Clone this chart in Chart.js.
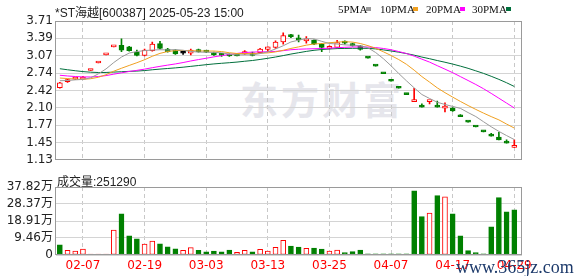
<!DOCTYPE html>
<html><head><meta charset="utf-8">
<script src="https://cdn.jsdelivr.net/npm/chart.js@4.4.0/dist/chart.umd.min.js"></script>
<style>
html,body{margin:0;padding:0;background:#fff;width:578px;height:276px;overflow:hidden;}
#wrap{position:relative;width:578px;height:276px;}
canvas{position:absolute;left:0;}
.t{position:absolute;white-space:nowrap;line-height:1;}
.sq{position:absolute;width:5px;height:4px;}
</style></head><body>
<div id="wrap">
 <div class="t" id="wm" style="left:240px;top:70px;font:bold 38px 'Noto Sans CJK SC';color:#e6e6ec;letter-spacing:3px;">东方财富</div>
 <canvas id="pc" width="578" height="170" style="top:0"></canvas>
 <canvas id="vc" width="578" height="106" style="top:170px"></canvas>
 <div class="t" id="title" style="left:55px;top:3px;font:12px 'Liberation Sans','Noto Sans CJK SC';color:#222;"></div>
 <div id="legend"></div>
 <div class="t" id="volLbl" style="left:57px;top:172px;font:12px 'Liberation Sans','Noto Sans CJK SC';color:#222;"></div>
 <div class="t" style="left:456px;top:257px;font:18px 'Liberation Serif';color:#1d3a6b;">www.365jz.com</div>
</div>
<script>
// ---------- data ----------
const stockTitle = '*ST海越[600387] 2025-05-23 15:00';
const dates = ['02-04','02-05','02-06','02-07','02-10','02-11','02-12','02-13','02-14','02-17',
 '02-18','02-19','02-20','02-21','02-24','02-25','02-26','02-27','02-28','03-03',
 '03-04','03-05','03-06','03-07','03-10','03-11','03-12','03-13','03-14','03-17',
 '03-18','03-19','03-20','03-21','03-24','03-25','03-26','03-27','03-28','03-31',
 '04-01','04-02','04-03','04-07','04-08','04-09','04-10','04-11','04-14','04-15',
 '04-16','04-17','04-18','04-21','04-22','04-23','04-24','04-25','04-28','04-29'];
const open = [2.47,2.58,2.63,2.63,2.79,2.93,3.08,3.23,3.26,3.23,
 3.13,3.07,3.16,3.29,3.19,3.17,3.11,3.11,3.18,3.15,
 3.12,3.08,3.09,3.07,3.10,3.12,3.12,3.18,3.22,3.32,
 3.44,3.39,3.34,3.35,3.28,3.20,3.22,3.32,3.29,3.25,
 3.02,2.87,2.73,2.59,2.46,2.34,2.21,2.12,2.21,2.12,
 2.09,2.09,1.94,1.83,1.74,1.65,1.58,1.55,1.45,1.36];
const high = [2.57,2.63,2.65,2.68,2.79,2.93,3.08,3.23,3.38,3.24,
 3.17,3.19,3.32,3.33,3.20,3.18,3.13,3.19,3.19,3.16,
 3.13,3.09,3.10,3.07,3.16,3.13,3.20,3.23,3.34,3.49,
 3.46,3.45,3.42,3.36,3.29,3.25,3.35,3.34,3.30,3.26,
 3.02,2.87,2.73,2.59,2.46,2.34,2.46,2.17,2.22,2.22,
 2.19,2.10,1.97,1.83,1.74,1.65,1.62,1.64,1.50,1.50];
const low = [2.46,2.57,2.62,2.62,2.79,2.93,3.08,3.23,3.14,3.15,
 3.06,3.06,3.15,3.19,3.13,3.09,3.09,3.08,3.13,3.12,
 3.07,3.05,3.05,3.06,3.09,3.06,3.11,3.14,3.20,3.28,
 3.40,3.32,3.30,3.27,3.14,3.19,3.21,3.28,3.24,3.17,
 3.02,2.87,2.73,2.59,2.46,2.34,2.21,2.11,2.17,2.11,
 2.02,2.03,1.93,1.83,1.74,1.65,1.57,1.50,1.44,1.36];
const close = [2.56,2.62,2.64,2.66,2.79,2.93,3.08,3.23,3.17,3.16,
 3.07,3.17,3.28,3.20,3.14,3.10,3.11,3.17,3.14,3.13,
 3.08,3.07,3.06,3.06,3.14,3.07,3.19,3.23,3.32,3.44,
 3.42,3.36,3.38,3.28,3.22,3.22,3.31,3.30,3.25,3.18,
 3.02,2.87,2.73,2.59,2.46,2.34,2.22,2.11,2.22,2.11,
 2.13,2.04,1.93,1.83,1.74,1.65,1.57,1.50,1.44,1.37];
// closes of the 29 sessions before the window (estimated, used for the moving averages)
const priorCloses = [3.20,3.18,3.15,3.12,3.10,3.06,3.02,2.98,2.95,2.90,
 2.88,2.85,2.82,2.80,2.76,2.73,2.70,2.68,2.66,2.65,
 2.72,2.74,2.70,2.68,2.66,
 2.60,2.58,2.62,2.64];
// volume in 万
const volume = [5.6,2.6,2.2,3.3,0.5,0.5,0.5,13.9,22.9,10.7,
 9.0,6.1,7.7,6.2,4.6,3.4,2.6,4.1,2.6,1.7,
 2.2,1.7,2.8,1.5,2.6,1.7,3.1,2.2,4.3,8.2,
 5.0,4.4,3.7,3.9,3.3,2.2,2.8,1.3,1.9,2.8,
 0.6,0.6,0.6,0.6,0.6,0.6,35.7,21.3,23.3,33.0,
 32.3,22.9,10.7,2.4,1.3,0.7,15.6,31.9,24.0,25.129];
const volUp = [0,1,1,1,1,1,1,1,0,0,
 0,1,1,0,0,0,1,1,0,0,
 0,0,0,1,1,0,1,1,1,1,
 0,0,1,0,0,1,1,0,0,0,
 0,0,0,0,0,0,0,0,1,0,
 1,0,0,0,0,0,0,0,0,0];
const priceTicks = [3.71,3.39,3.07,2.74,2.42,2.10,1.77,1.45,1.13];
const volTicks = [0,9.46,18.91,28.37,37.82];
const dateTickIdx = [3,11,19,27,35,43,51,59];
const maPeriods = [5,10,20,30];
const maNames = ['5PMA','10PMA','20PMA','30PMA'];
const maColors = ['#9a9a9a','#f0a020','#ff00ff','#006f3c'];

// ---------- derived ----------
const RED = '#ff0000', GREEN = '#008000';
const allCloses = priorCloses.concat(close);
function movingAvg(n){
  return close.map((_, i) => {
    const end = priorCloses.length + i; let s = 0;
    for (let k = end - n + 1; k <= end; k++) s += allCloses[k];
    return s / n;
  });
}
function candleColor(i){
  if (close[i] > open[i]) return RED;
  if (close[i] < open[i]) return GREEN;
  if (high[i] === low[i]) { const prev = i ? close[i-1] : priorCloses[priorCloses.length-1]; return close[i] >= prev ? RED : GREEN; }
  return '#000';
}
const cColors = close.map((_, i) => candleColor(i));
const cFill = cColors.map(c => c === RED ? '#ffffff' : c);

document.getElementById('title').textContent = stockTitle;
document.getElementById('volLbl').textContent = '成交量:' + Math.round(volume[volume.length-1]*10000);
const legendPos = [[338,366],[380,413],[426,460],[472,506]];
const lg = document.getElementById('legend');
maNames.forEach((n, k) => {
  const t = document.createElement('div'); t.className = 't'; t.textContent = n;
  t.style.cssText = `left:${legendPos[k][0]}px;top:3px;font:11px 'Liberation Serif';color:#111;`;
  lg.appendChild(t);
  const s = document.createElement('div'); s.className = 'sq';
  s.style.cssText = `left:${legendPos[k][1]}px;top:7px;background:${maColors[k]};`;
  lg.appendChild(s);
});

const framePlugin = { id: 'frame', afterDraw(chart){
  const {ctx, chartArea: a} = chart; ctx.save(); ctx.strokeStyle = '#9a9a9a'; ctx.lineWidth = 1;
  ctx.strokeRect(Math.round(a.left) - 0.5, Math.round(a.top) + 0.5, Math.round(a.right - a.left), Math.round(a.bottom - a.top) - 1);
  ctx.restore();
}};

const fontFam = "'DejaVu Sans','Noto Sans CJK SC'";
function xScale(showLabels, h){
  return {
    type: 'linear', min: -0.5, max: 60, offset: false,
    afterBuildTicks: s => { s.ticks = dateTickIdx.map(v => ({value: v})); },
    afterFit: s => { s.height = h; },
    ticks: { display: showLabels, autoSkip: false, maxRotation: 0, padding: 4, color: '#ff0000',
      font: {family: fontFam, size: 12}, callback: v => dates[v] },
    grid: { color: '#c8c8c8', drawTicks: false, offset: false },
    border: { display: false, dash: [4, 3] }
  };
}

Chart.defaults.devicePixelRatio = 1;

new Chart(document.getElementById('pc'), {
  type: 'bar',
  data: { datasets: [
    ...maPeriods.map((n, k) => ({
      type: 'line', data: movingAvg(n).map((v, i) => ({x: i, y: v})),
      borderColor: maColors[k], borderWidth: 1, pointRadius: 0, fill: false, tension: 0, order: 0
    })),
    { type: 'bar', data: close.map((c, i) => ({x: i, y: [Math.min(open[i], c), Math.max(open[i], c)]})),
      backgroundColor: cFill, borderColor: cColors, borderWidth: 1, borderSkipped: false,
      barThickness: 5, minBarLength: 2, grouped: false, order: 1 },
    { type: 'bar', data: close.map((c, i) => ({x: i, y: [low[i], high[i]]})),
      backgroundColor: cColors, borderWidth: 0, barThickness: 1, minBarLength: 1, grouped: false, order: 2 }
  ]},
  options: {
    responsive: false, animation: false, devicePixelRatio: 1,
    layout: { padding: { top: 21, right: 56, bottom: 5, left: 0 } },
    plugins: { legend: { display: false }, tooltip: { enabled: false } },
    scales: {
      x: xScale(false, 0),
      y: { type: 'linear', min: priceTicks[priceTicks.length-1], max: priceTicks[0],
        afterBuildTicks: s => { s.ticks = priceTicks.slice().reverse().map(v => ({value: v})); },
        afterFit: s => { s.width = 56; },
        ticks: { padding: 3, autoSkip: false, color: '#222', font: {family: fontFam, size: 12}, callback: v => v.toFixed(2) },
        grid: { color: '#d4d4d4', drawTicks: false }, border: { display: false } }
    }
  },
  plugins: [framePlugin]
});

new Chart(document.getElementById('vc'), {
  type: 'bar',
  data: { datasets: [
    { data: volume.map((v, i) => ({x: i, y: v})),
      backgroundColor: volUp.map(u => u ? '#ffffff' : GREEN), borderColor: volUp.map(u => u ? RED : GREEN),
      borderWidth: 1, borderSkipped: false, barThickness: 5, minBarLength: 1, grouped: false }
  ]},
  options: {
    responsive: false, animation: false, devicePixelRatio: 1,
    layout: { padding: { top: 17, right: 56, bottom: 0, left: 0 } },
    plugins: { legend: { display: false }, tooltip: { enabled: false } },
    scales: {
      x: xScale(true, 21),
      y: { type: 'linear', min: 0, max: volTicks[volTicks.length-1],
        afterBuildTicks: s => { s.ticks = volTicks.map(v => ({value: v})); },
        afterFit: s => { s.width = 56; },
        ticks: { padding: 3, autoSkip: false, color: '#222', font: {family: fontFam, size: 12}, callback: v => v === 0 ? '0' : v.toFixed(2) + '万' },
        grid: { color: '#d4d4d4', drawTicks: false }, border: { display: false } }
    }
  },
  plugins: [framePlugin]
});
</script>
</body></html>
